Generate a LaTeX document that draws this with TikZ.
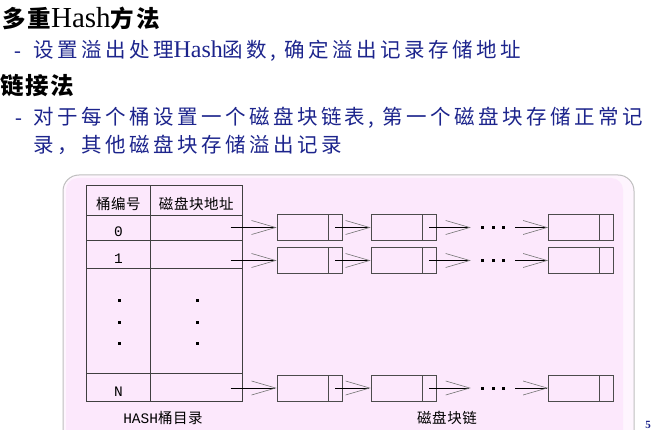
\documentclass[tikz,border=0pt]{standalone}
\usepackage{fontspec}
\setmainfont{Liberation Serif}
\setmonofont{Liberation Mono}
\newfontfamily\cjkhead[LetterSpace=8]{Noto Sans CJK SC}
\newfontfamily\cjkbody[LetterSpace=17]{Noto Sans CJK SC}
\newfontfamily\cjktab[LetterSpace=4]{Noto Sans CJK SC}
\usetikzlibrary{arrows.meta,positioning}
\definecolor{panelpink}{RGB}{252,232,252}
\definecolor{slideblue}{RGB}{28,36,140}

\begin{document}
\begin{tikzpicture}[x=1pt,y=-1pt,
  head/.style={anchor=base west,inner sep=0pt,font=\fontsize{23.5}{24}\selectfont\bfseries},
  body/.style={anchor=base west,inner sep=0pt,text=slideblue,font=\fontsize{20.5}{21}\selectfont},
  tcell/.style={draw=black!75,line width=0.7pt,anchor=north west,inner sep=0pt,
    text height=18pt,text depth=0pt,font=\fontsize{14.5}{15}\selectfont},
  blk/.style={draw=black!70,line width=0.7pt,minimum width=65pt,minimum height=26pt,inner sep=0pt,
    path picture={\draw[black!70,line width=0.7pt]
      ([xshift=-14pt]path picture bounding box.north east) --
      ([xshift=-14pt]path picture bounding box.south east);}},
  link/.style={line width=0.7pt,-{Straight Barb[length=24pt,width=14pt,line width=0.6pt,color=black!55]}},
  dots/.style={inner xsep=10pt,inner ysep=0pt}]
  \useasboundingbox (0,0) rectangle (652,430);

  % slide text
  \node[head] (title1) at (2,28) {\cjkhead 多重{\rmfamily\mdseries\fontsize{29}{29}\selectfont Hash}方法};
  \node[body] (dash1) at (14,58) {-};
  \node[body] (line1) at (33,58) {\cjkbody 设置溢出处理{\rmfamily\fontsize{24}{24}\selectfont Hash}函数, 确定溢出记录存储地址};
  \node[head] (title2) at (0,95) {\cjkhead 链接法};
  \node[body] (dash2) at (15,125) {-};
  \node[body] (line2) at (33,125) {\cjkbody 对于每个桶设置一个磁盘块链表, 第一个磁盘块存储正常记};
  \node[body] (line3) at (33,153) {\cjkbody 录，其他磁盘块存储溢出记录};

  % panel
  \draw[rounded corners=16pt,line width=1pt,draw=black!25,fill=white!55!panelpink] (63,175) rectangle (634,450);
  \fill[panelpink,rounded corners=12pt] (66,178) rectangle (623,450);

  % bucket directory
  \node[tcell,minimum width=64pt,minimum height=30pt] (nh) at (86,185) {\cjktab 桶编号};
  \node[tcell,minimum width=92pt,minimum height=30pt] (ah) at (150,185) {\cjktab 磁盘块地址};
  \foreach \r/\y/\h in {0/215/25,1/240/28,N/373/28} {
    \node[tcell,minimum width=64pt,minimum height=\h pt] (n\r) at (86,\y) {\ttfamily \r};
    \node[tcell,minimum width=92pt,minimum height=\h pt] (a\r) at (150,\y) {};
  }
  \node[tcell,minimum width=64pt,minimum height=105pt] (nd) at (86,268) {};
  \node[tcell,minimum width=92pt,minimum height=105pt] (ad) at (150,268) {};
  \foreach \dy in {20,-1.5,-22.5} {
    \fill ([xshift=1.5pt,yshift=\dy pt]nd.center) +(-1.5,-1.5) rectangle +(1.5,1.5);
    \fill ([xshift=1pt,yshift=\dy pt]ad.center) +(-1.5,-1.5) rectangle +(1.5,1.5);
  }

  % block chains
  \foreach \r/\y in {0/227.5,1/260.5,N/388} {
    \node[blk] (b\r1) at (309.5,\y) {};
    \node[blk] (b\r2) at (403.5,\y) {};
    \node[dots] (d\r) at (493,\y) {\rule{3pt}{3pt}\hspace{7.5pt}\rule{3pt}{3pt}\hspace{7.5pt}\rule{3pt}{3pt}};
    \node[blk] (b\r3) at (581,\y) {};
    \draw[link] ([xshift=-12pt]a\r.east |- b\r1.west) -- (b\r1.west);
    \draw[link] ([xshift=-7pt]b\r1.east) -- (b\r2.west);
    \draw[link] ([xshift=-7pt]b\r2.east) -- (d\r.west);
    \draw[link] (d\r.east) -- (b\r3.west);
  }

  \node[font=\fontsize{14.5}{15}\selectfont] (dirname) at (163,418) {\ttfamily HASH\cjktab 桶目录};
  \node[font=\fontsize{14.5}{15}\selectfont] (chainname) at (447,418) {\cjktab 磁盘块链};
  \node[anchor=base east,inner sep=0pt,text=slideblue,font=\bfseries\fontsize{11}{11}\selectfont] (pageno) at (651,428) {5};
\end{tikzpicture}
\end{document}
